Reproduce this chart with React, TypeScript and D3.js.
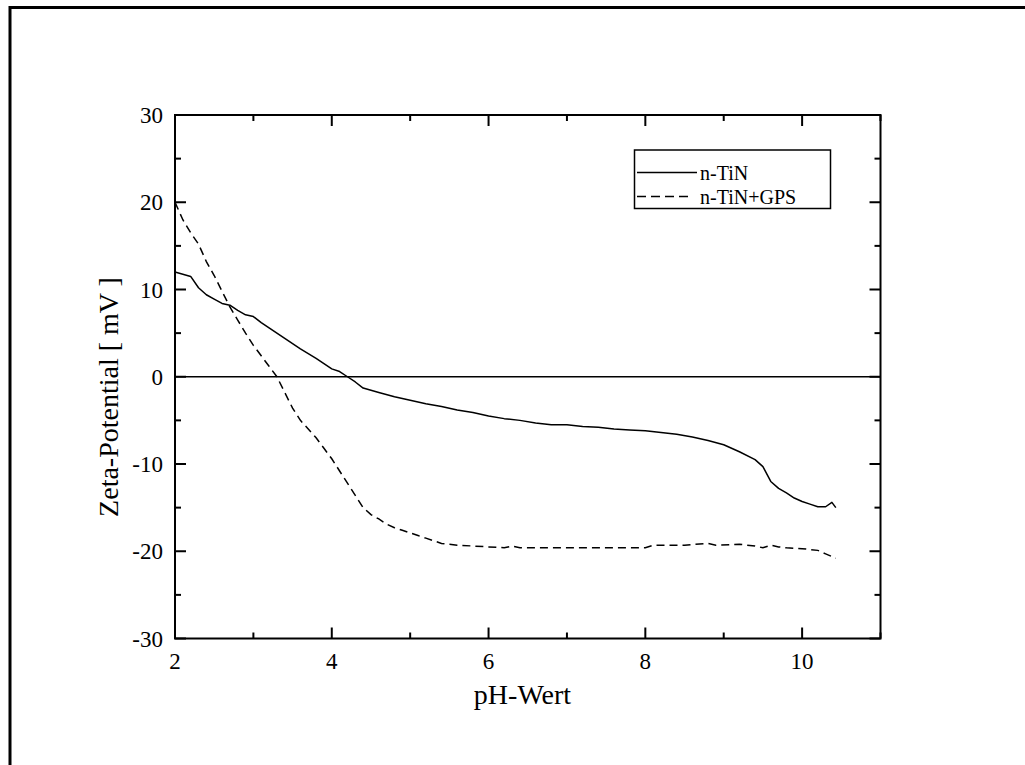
import React from "react";
import * as d3 from "d3";

const tinPH = [2.0, 2.2, 2.3, 2.4, 2.5, 2.6, 2.7, 2.8, 2.9, 3.0, 3.1, 3.2, 3.4, 3.6, 3.8, 3.9, 4.0, 4.1, 4.2, 4.3, 4.4, 4.6, 4.8, 5.0, 5.2, 5.4, 5.6, 5.8, 6.0, 6.2, 6.4, 6.6, 6.8, 7.0, 7.2, 7.4, 7.6, 7.8, 8.0, 8.2, 8.4, 8.6, 8.8, 9.0, 9.2, 9.4, 9.5, 9.6, 9.7, 9.8, 9.9, 10.0, 10.1, 10.2, 10.3, 10.38, 10.43];
const tinZeta = [12.0, 11.5, 10.2, 9.4, 8.9, 8.4, 8.2, 7.6, 7.1, 6.9, 6.2, 5.6, 4.4, 3.2, 2.1, 1.5, 0.9, 0.6, 0.0, -0.6, -1.3, -1.8, -2.3, -2.7, -3.1, -3.4, -3.8, -4.1, -4.5, -4.8, -5.0, -5.3, -5.5, -5.5, -5.7, -5.8, -6.0, -6.1, -6.2, -6.4, -6.6, -6.9, -7.3, -7.8, -8.6, -9.5, -10.3, -12.0, -12.8, -13.3, -13.9, -14.3, -14.6, -14.9, -14.9, -14.4, -15.0];

const gpsPH = [2.0, 2.1, 2.2, 2.3, 2.4, 2.5, 2.6, 2.7, 2.8, 2.9, 3.0, 3.1, 3.2, 3.3, 3.4, 3.5, 3.6, 3.7, 3.8, 3.9, 4.0, 4.1, 4.2, 4.3, 4.4, 4.5, 4.6, 4.7, 4.8, 4.9, 5.0, 5.1, 5.2, 5.3, 5.4, 5.6, 5.8, 6.0, 6.2, 6.3, 6.4, 6.6, 7.0, 7.5, 8.0, 8.1, 8.5, 8.8, 8.9, 9.2, 9.4, 9.5, 9.6, 9.7, 9.8, 10.0, 10.2, 10.3, 10.43];
const gpsZeta = [20.0, 18.0, 16.5, 15.2, 13.2, 11.6, 9.8, 8.0, 6.5, 5.0, 3.6, 2.4, 1.2, 0.0, -1.8, -3.6, -5.0, -6.0, -7.0, -8.2, -9.4, -10.8, -12.2, -13.6, -15.0, -15.8, -16.3, -16.9, -17.3, -17.6, -17.9, -18.2, -18.5, -18.8, -19.1, -19.3, -19.4, -19.5, -19.6, -19.4, -19.6, -19.6, -19.6, -19.6, -19.6, -19.3, -19.3, -19.1, -19.3, -19.2, -19.4, -19.6, -19.3, -19.5, -19.6, -19.7, -19.9, -20.3, -20.8];

const xMajor = [2, 4, 6, 8, 10];
const xMinor = [3, 5, 7, 9, 11];
const yMajor = [-30, -20, -10, 0, 10, 20, 30];
const yMinor = [-25, -15, -5, 5, 15, 25];

const seriesNames = ["n-TiN", "n-TiN+GPS"];

export default function App() {
  const W = 1025, H = 765;
  const x = d3.scaleLinear().domain([2, 11]).range([175, 880.5]);
  const y = d3.scaleLinear().domain([-30, 30]).range([638.5, 115]);
  const x0 = x.range()[0], x1 = x.range()[1];
  const yb = y.range()[0], yt = y.range()[1];
  const line = d3.line<[number, number]>().x(d => x(d[0])).y(d => y(d[1]));
  const tin: [number, number][] = tinPH.map((p, i) => [p, tinZeta[i]]);
  const gps: [number, number][] = gpsPH.map((p, i) => [p, gpsZeta[i]]);
  const majL = 11, minL = 6;
  return (
    <svg width={W} height={H} style={{ position: "absolute", left: 0, top: 0, background: "#fff", fontFamily: "Liberation Serif, DejaVu Serif, serif" }}>
      <rect x={0} y={0} width={W} height={H} fill="#fff" />
      <rect x={10} y={7.5} width={1200} height={1000} fill="none" stroke="#000" strokeWidth={3} />
      <line x1={x0} x2={x1} y1={y(0)} y2={y(0)} stroke="#000" strokeWidth={1.5} />
      <path d={line(tin) || ""} fill="none" stroke="#000" strokeWidth={1.5} strokeLinejoin="round" />
      <path d={line(gps) || ""} fill="none" stroke="#000" strokeWidth={1.5} strokeDasharray="8,5" />
      <rect x={x0} y={yt} width={x1 - x0} height={yb - yt} fill="none" stroke="#000" strokeWidth={2} />
      {xMajor.map(v => (
        <g key={"xM" + v}>
          <line x1={x(v)} x2={x(v)} y1={yb} y2={yb - majL} stroke="#000" strokeWidth={2} />
          <line x1={x(v)} x2={x(v)} y1={yt} y2={yt + majL} stroke="#000" strokeWidth={2} />
          <text x={x(v)} y={669} fontSize={23} textAnchor="middle">{v}</text>
        </g>
      ))}
      {xMinor.map(v => (
        <g key={"xm" + v}>
          <line x1={x(v)} x2={x(v)} y1={yb} y2={yb - minL} stroke="#000" strokeWidth={2} />
          <line x1={x(v)} x2={x(v)} y1={yt} y2={yt + minL} stroke="#000" strokeWidth={2} />
        </g>
      ))}
      {yMajor.map(v => (
        <g key={"yM" + v}>
          <line x1={x0} x2={x0 + majL} y1={y(v)} y2={y(v)} stroke="#000" strokeWidth={2} />
          <line x1={x1} x2={x1 - majL} y1={y(v)} y2={y(v)} stroke="#000" strokeWidth={2} />
          <text x={163} y={y(v) + 8} fontSize={23} textAnchor="end">{v}</text>
        </g>
      ))}
      {yMinor.map(v => (
        <g key={"ym" + v}>
          <line x1={x0} x2={x0 + minL} y1={y(v)} y2={y(v)} stroke="#000" strokeWidth={2} />
          <line x1={x1} x2={x1 - minL} y1={y(v)} y2={y(v)} stroke="#000" strokeWidth={2} />
        </g>
      ))}
      <text x={522.5} y={704} fontSize={28} textAnchor="middle">pH-Wert</text>
      <text transform={`translate(118, 397) rotate(-90)`} fontSize={28} textAnchor="middle">Zeta-Potential [ mV ]</text>
      <rect x={634.5} y={150} width={196} height={58.5} fill="#fff" stroke="#000" strokeWidth={1.5} />
      <line x1={637} x2={697} y1={172.5} y2={172.5} stroke="#000" strokeWidth={1.5} />
      <line x1={637} x2={690} y1={196.5} y2={196.5} stroke="#000" strokeWidth={1.5} strokeDasharray="9,5" />
      <text x={700} y={180} fontSize={20}>{seriesNames[0]}</text>
      <text x={700} y={204} fontSize={20}>{seriesNames[1]}</text>
    </svg>
  );
}
